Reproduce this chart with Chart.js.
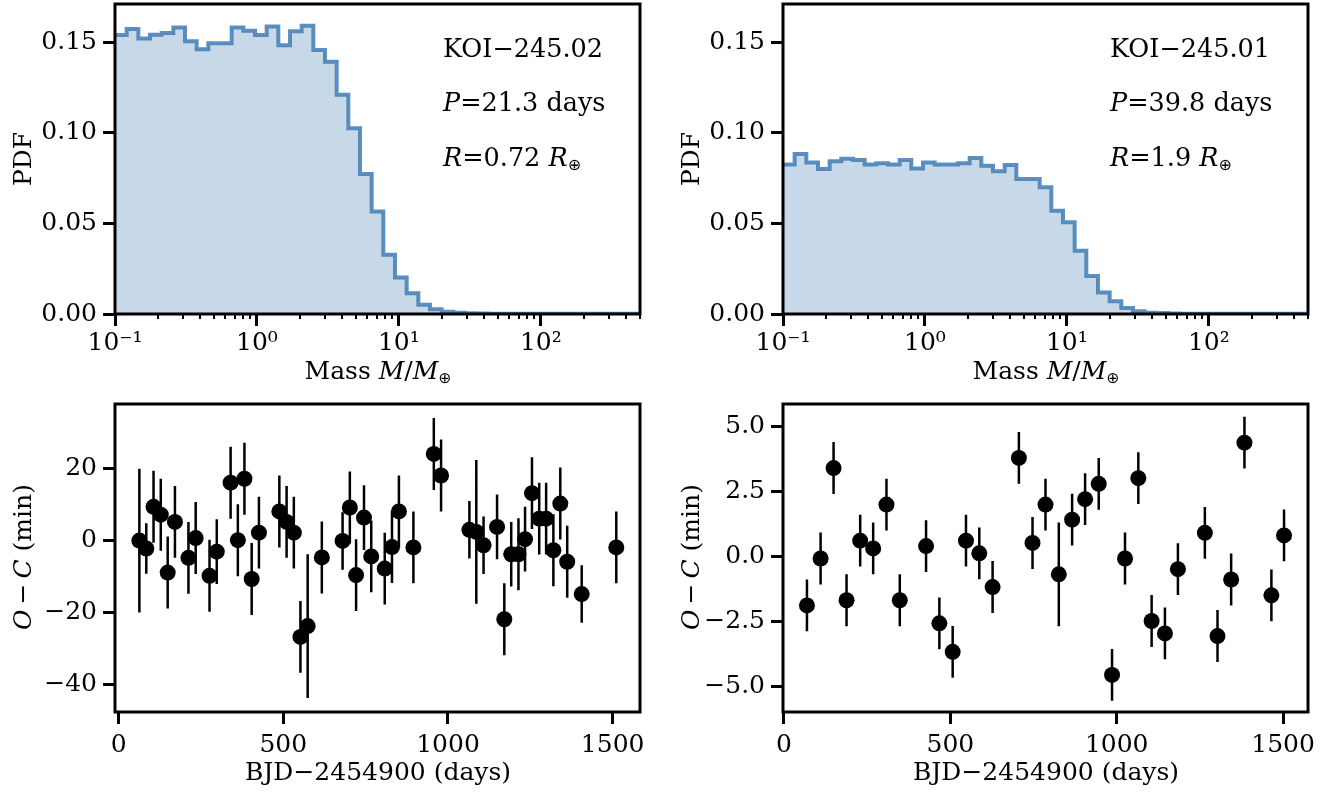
<!DOCTYPE html>
<html><head><meta charset="utf-8">
<script src="https://cdn.jsdelivr.net/npm/chart.js@4.4.1/dist/chart.umd.min.js"></script>
<style>
html,body{margin:0;padding:0;background:#fff;}
body{width:1338px;height:792px;position:relative;overflow:hidden;font-family:"DejaVu Serif",serif;}
canvas{position:absolute;}
.t{position:absolute;font-family:"DejaVu Serif",serif;font-size:25px;line-height:25px;color:#000;white-space:nowrap;}
.t i{font-style:italic;}
.t sub{font-family:"DejaVu Sans",sans-serif;font-size:0.62em;vertical-align:-0.28em;line-height:0;}
.c{transform:translateX(-50%);}
.r{transform:translate(-50%,-50%) rotate(-90deg);}
</style></head><body>
<canvas id="c1" width="669" height="396" style="left:0;top:0;width:669px;height:396px"></canvas>
<canvas id="c2" width="669" height="396" style="left:669px;top:0;width:669px;height:396px"></canvas>
<canvas id="c3" width="669" height="396" style="left:0;top:396px;width:669px;height:396px"></canvas>
<canvas id="c4" width="669" height="396" style="left:669px;top:396px;width:669px;height:396px"></canvas>

<div class="t" style="left:443px;top:36px;font-size:25.5px">KOI−245.02</div>
<div class="t" style="left:443px;top:90px;font-size:25.5px"><i>P</i>=21.3 days</div>
<div class="t" style="left:443px;top:145px;font-size:25.5px"><i>R</i>=0.72 <i>R</i><sub>⊕</sub></div>
<div class="t" style="left:1110px;top:36px;font-size:25.5px">KOI−245.01</div>
<div class="t" style="left:1110px;top:90px;font-size:25.5px"><i>P</i>=39.8 days</div>
<div class="t" style="left:1110px;top:145px;font-size:25.5px"><i>R</i>=1.9 <i>R</i><sub>⊕</sub></div>

<div class="t c" style="left:378px;top:358px">Mass <i>M</i>/<i>M</i><sub>⊕</sub></div>
<div class="t c" style="left:1046px;top:358px">Mass <i>M</i>/<i>M</i><sub>⊕</sub></div>
<div class="t c" style="left:378px;top:759px">BJD−2454900 (days)</div>
<div class="t c" style="left:1046px;top:759px">BJD−2454900 (days)</div>
<div class="t r" style="left:22px;top:159px">PDF</div>
<div class="t r" style="left:690px;top:159px">PDF</div>
<div class="t r" style="left:22px;top:557px"><i>O</i>&#8201;−&#8201;<i>C</i> (min)</div>
<div class="t r" style="left:690px;top:557px"><i>O</i>&#8201;−&#8201;<i>C</i> (min)</div>

<script>
// ---------- data ----------
const massBinLo = 0.1;
const massBinHi = 500;
const pdfKOI24502 = [0.1539,0.1572,0.1520,0.1540,0.1550,0.1581,0.1504,0.1461,0.1493,0.1493,
  0.1581,0.1563,0.1539,0.1586,0.1483,0.1559,0.1590,0.1456,0.1392,0.1210,
  0.1024,0.0772,0.0566,0.0327,0.0202,0.0114,0.0051,0.0026,0.0013,0.0007,
  0.0004,0.0003,0.0002,0.0002,0.0001,0.0001,0.0001,0.0001,0.0001,0.0001,
  0.0001,0.0001,0.0001,0.0001,0.0001];
const pdfKOI24501 = [0.0824,0.0882,0.0836,0.0800,0.0842,0.0857,0.0849,0.0824,0.0831,0.0824,
  0.0849,0.0803,0.0836,0.0824,0.0824,0.0831,0.0860,0.0818,0.0787,0.0822,
  0.0744,0.0744,0.0699,0.0570,0.0506,0.0349,0.0210,0.0119,0.0070,0.0033,
  0.0015,0.0007,0.0005,0.0003,0.0002,0.0002,0.0001,0.0001,0.0001,0.0001,
  0.0001,0.0001,0.0001,0.0001,0.0001];
const pdfYTicks = [0, 0.05, 0.10, 0.15];
const pdfYTickLabels = ['0.00','0.05','0.10','0.15'];
const massXTicks = [0.1, 1, 10, 100];
const massXTickLabels = ['10\u207B\u00B9','10\u2070','10\u00B9','10\u00B2'];
const massMinorTicks = [0.2,0.3,0.4,0.5,0.6,0.7,0.8,0.9,2,3,4,5,6,7,8,9,20,30,40,50,60,70,80,90,200,300,400,500];

const ttvTime02 = [63,84,106,128,149,171,212,234,276,298,340,362,382,404,426,488,510,532,552,574,617,680,702,721,745,767,808,830,851,895,957,979,1065,1086,1108,1149,1171,1192,1214,1234,1255,1277,1298,1320,1341,1362,1406,1511];
const ttvOC02 = [0,-2.2,9.4,7.2,-8.9,5.2,-4.8,0.7,-9.8,-3.1,16.1,0.1,17.2,-10.7,2.2,8.1,5.2,2.2,-26.8,-23.8,-4.7,-0.1,9.2,-9.6,6.4,-4.4,-7.8,-1.8,8.1,-1.9,24.1,18.1,3.0,2.4,-1.3,3.8,-21.9,-3.8,-3.8,0.4,13.2,6.1,6.1,-2.7,10.3,-5.9,-14.9,-1.9];
const ttvErr02 = [20,7,10,10,10,10,10,10,10,9,10,10,10,10,10,10,10,10,10,20,10,8,10,10,9,10,10,10,10,10,10,10,8,20,8,9,10,9,10,9,10,10,10,10,10,10,8,10];

const ttvTime01 = [69,110,149,188,229,268,308,348,427,467,507,547,587,627,706,747,786,826,866,905,946,986,1025,1065,1105,1145,1184,1265,1303,1344,1384,1465,1503];
const ttvOC01 = [-1.89,-0.08,3.41,-1.69,0.61,0.31,2.0,-1.69,0.40,-2.58,-3.68,0.61,0.12,-1.18,3.80,0.52,2.0,-0.69,1.42,2.21,2.80,-4.57,-0.08,3.02,-2.49,-2.97,-0.49,0.91,-3.07,-0.89,4.39,-1.50,0.81];
const ttvErr01 = [1,1,1,1,1,1,1,1,1,1,1,1,1,1,1,1,1,2,1,1,1,1,1,1,1,1,1,1,1,1,1,1,1];

const timeXTicks = [0, 500, 1000, 1500];
const timeXTickLabels = ['0','500','1000','1500'];
const ocYTicks02 = [-40, -20, 0, 20];
const ocYTickLabels02 = ['\u221240','\u221220','0','20'];
const ocYTicks01 = [-5, -2.5, 0, 2.5, 5];
const ocYTickLabels01 = ['\u22125.0','\u22122.5','0.0','2.5','5.0'];

// ---------- helpers ----------
const FONT = {family:'"DejaVu Serif", serif', size:25};
const CW = 669, CH = 396;

const framePlugin = {
  id:'frame',
  afterDatasetsDraw(chart){
    const {ctx, chartArea:a} = chart;
    ctx.save(); ctx.strokeStyle='#000'; ctx.lineWidth=3;
    ctx.strokeRect(a.left, a.top, a.right-a.left, a.bottom-a.top);
    ctx.restore();
  }
};
const minorTickPlugin = {
  id:'minorTicks',
  afterDraw(chart, args, opts){
    if(!opts || !opts.values) return;
    const s = chart.scales.x, ctx = chart.ctx;
    ctx.save(); ctx.strokeStyle='#000'; ctx.lineWidth=2;
    ctx.beginPath();
    opts.values.forEach(v=>{
      const px = Math.round(s.getPixelForValue(v));
      ctx.moveTo(px, chart.chartArea.bottom); ctx.lineTo(px, chart.chartArea.bottom + opts.length);
    });
    ctx.stroke(); ctx.restore();
  }
};

function makeOptions(cfg){
  const a = cfg.area;
  return {
    responsive:false, maintainAspectRatio:false, animation:false, devicePixelRatio:1,
    layout:{padding:{left:0, top:a.top, right:CW-a.right, bottom:0}},
    plugins:{legend:{display:false}, tooltip:{enabled:false}, minorTicks:{values:cfg.minor, length:5}},
    scales:{
      x:{
        type:cfg.xType, min:cfg.xMin, max:cfg.xMax, position:'bottom',
        afterBuildTicks:s=>{ s.ticks = cfg.xTicks.map(v=>({value:v})); },
        afterFit:s=>{ s.height = CH - a.bottom; s.paddingLeft = 0; s.paddingRight = 0; },
        ticks:{autoSkip:false, maxRotation:0, minRotation:0, padding:cfg.xPad, color:'#000', font:FONT,
          callback:(v,i)=>cfg.xLabels[i]},
        grid:{drawOnChartArea:false, drawTicks:true, tickLength:12, tickWidth:3, tickColor:'#000'},
        border:{display:false}
      },
      y:{
        type:'linear', min:cfg.yMin, max:cfg.yMax, position:'left',
        afterBuildTicks:s=>{ s.ticks = cfg.yTicks.map(v=>({value:v})); },
        afterFit:s=>{ s.width = a.left; s.paddingTop = 0; s.paddingBottom = 0; },
        ticks:{autoSkip:false, padding:6, color:'#000', font:FONT, callback:(v,i)=>cfg.yLabels[i]},
        grid:{drawOnChartArea:false, drawTicks:true, tickLength:12, tickWidth:3, tickColor:'#000'},
        border:{display:false}
      }
    }
  };
}

function stepPoints(values){
  const n = values.length, pts = [];
  for(let i=0;i<=n;i++){
    pts.push({x: massBinLo*Math.pow(massBinHi/massBinLo, i/n), y: values[Math.min(i,n-1)]});
  }
  return pts;
}
function histChart(id, values, area){
  return new Chart(document.getElementById(id), {
    type:'line',
    data:{datasets:[{
      data:stepPoints(values), stepped:'before', fill:'origin',
      backgroundColor:'rgba(70,130,180,0.3)', borderColor:'rgba(65,125,180,0.85)',
      borderWidth:4, pointRadius:0, tension:0
    }]},
    options:makeOptions({area, xType:'logarithmic', xMin:massBinLo, xMax:massBinHi,
      xTicks:massXTicks, xLabels:massXTickLabels, xPad:2, minor:massMinorTicks,
      yMin:0, yMax:0.171, yTicks:pdfYTicks, yLabels:pdfYTickLabels}),
    plugins:[framePlugin, minorTickPlugin]
  });
}
function ttvChart(id, t, oc, err, area, xMin, xMax, yMin, yMax, yTicks, yLabels){
  const bars = [];
  t.forEach((x,i)=>{ bars.push({x, y:oc[i]-err[i]}, {x, y:oc[i]+err[i]}, {x, y:null}); });
  const pts = t.map((x,i)=>({x, y:oc[i]}));
  return new Chart(document.getElementById(id), {
    type:'scatter',
    data:{datasets:[
      {data:pts, pointRadius:8, pointBackgroundColor:'#000', pointBorderWidth:0, showLine:false},
      {data:bars, showLine:true, spanGaps:false, borderColor:'#000', borderWidth:2.5, pointRadius:0}
    ]},
    options:makeOptions({area, xType:'linear', xMin, xMax, xTicks:timeXTicks, xLabels:timeXTickLabels, xPad:6,
      minor:null, yMin, yMax, yTicks, yLabels}),
    plugins:[framePlugin]
  });
}

histChart('c1', pdfKOI24502, {left:115, right:640, top:4, bottom:314});
histChart('c2', pdfKOI24501, {left:114, right:639, top:4, bottom:314});
ttvChart('c3', ttvTime02, ttvOC02, ttvErr02, {left:115, right:640, top:7, bottom:316}, -11, 1583, -47.7, 38.0, ocYTicks02, ocYTickLabels02);
ttvChart('c4', ttvTime01, ttvOC01, ttvErr01, {left:114, right:639, top:7, bottom:316}, -3, 1575, -6.0, 5.88, ocYTicks01, ocYTickLabels01);
</script>
</body></html>
